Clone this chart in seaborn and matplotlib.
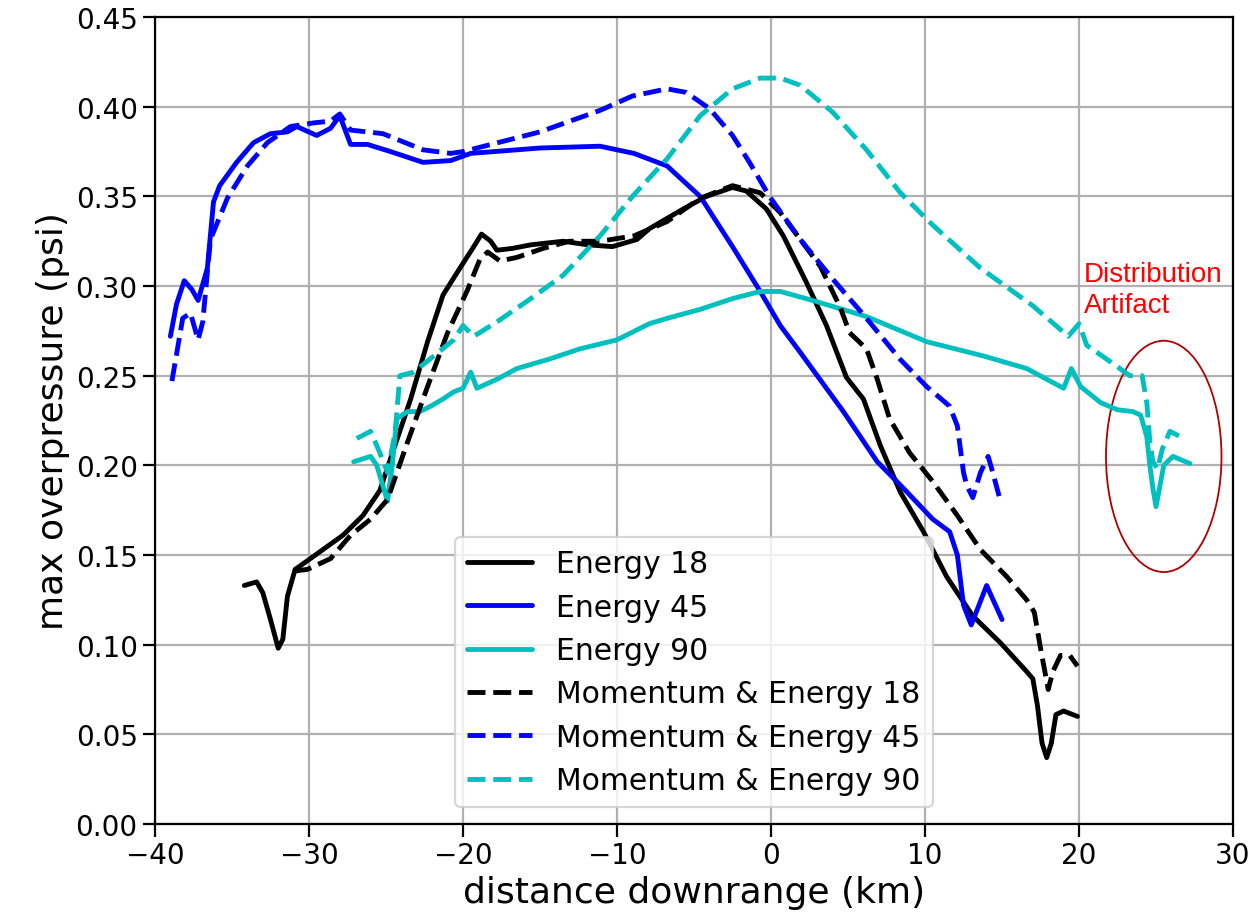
import numpy as np
import pandas as pd
import seaborn as sns
import matplotlib.pyplot as plt
from matplotlib.patches import Ellipse

# values
e18_x = [-34.2, -33.4, -33.0, -32.5, -32.0, -31.7, -31.4, -30.9, -30.4, -29.1, -27.8, -26.5, -25.4, -24.5,
         -23.4, -22.3, -21.3, -20.2, -19.3, -18.8, -18.2, -17.8, -16.8, -15.6, -13.5, -11.9, -10.3, -8.7,
         -7.9, -5.7, -4.2, -2.5, -1.6, -0.3, 0.8, 2.3, 3.6, 4.9, 6.0, 7.1, 8.4, 9.9, 11.4, 13.1, 14.9,
         16.6, 17.0, 17.3, 17.6, 17.9, 18.2, 18.5, 19.0, 19.9]
e18_y = [0.133, 0.135, 0.129, 0.114, 0.098, 0.103, 0.127, 0.142, 0.145, 0.153, 0.161, 0.172, 0.186, 0.209,
         0.237, 0.269, 0.295, 0.310, 0.322, 0.329, 0.325, 0.320, 0.321, 0.323, 0.325, 0.323, 0.322, 0.326,
         0.332, 0.343, 0.350, 0.355, 0.353, 0.343, 0.328, 0.302, 0.278, 0.249, 0.237, 0.211, 0.185, 0.163,
         0.138, 0.116, 0.101, 0.085, 0.081, 0.066, 0.045, 0.037, 0.045, 0.061, 0.063, 0.060]

e45_x = [-39.0, -38.6, -38.1, -37.6, -37.2, -36.6, -36.2, -35.8, -34.7, -33.6, -32.5, -31.4, -30.8, -29.5,
         -28.6, -28.0, -27.3, -26.2, -24.7, -22.6, -20.8, -19.5, -15.0, -11.1, -8.9, -6.75, -4.6, -2.5,
         -0.7, 0.6, 1.9, 4.7, 6.9, 8.4, 10.5, 11.6, 12.1, 12.5, 13.0, 14.0, 15.0]
e45_y = [0.272, 0.290, 0.303, 0.298, 0.292, 0.310, 0.347, 0.356, 0.369, 0.380, 0.385, 0.386, 0.389, 0.384,
         0.388, 0.395, 0.379, 0.379, 0.375, 0.369, 0.370, 0.374, 0.377, 0.378, 0.374, 0.367, 0.350, 0.322,
         0.297, 0.278, 0.263, 0.230, 0.202, 0.189, 0.170, 0.163, 0.150, 0.122, 0.111, 0.133, 0.114]

e90_x = [-27.1, -26.0, -25.6, -24.9, -24.6, -24.3, -23.6, -22.8, -22.1, -21.3, -20.6, -20.0, -19.5, -19.1,
         -17.8, -16.5, -14.5, -12.4, -10.0, -7.9, -6.75, -4.6, -2.5, -0.7, 0.6, 2.7, 6.2, 10.1, 13.8, 16.6,
         19.0, 19.5, 20.1, 21.4, 22.5, 23.5, 24.0, 24.4, 24.6, 24.8, 25.0, 25.5, 26.1, 27.2]
e90_y = [0.202, 0.205, 0.200, 0.180, 0.200, 0.226, 0.230, 0.230, 0.233, 0.237, 0.241, 0.243, 0.252, 0.243,
         0.248, 0.254, 0.259, 0.265, 0.270, 0.279, 0.282, 0.287, 0.293, 0.297, 0.297, 0.292, 0.283, 0.269,
         0.261, 0.254, 0.243, 0.254, 0.244, 0.235, 0.231, 0.230, 0.228, 0.216, 0.200, 0.187, 0.177, 0.200,
         0.205, 0.201]

me18_x = [-31.0, -30.1, -28.6, -27.3, -26.0, -24.9, -23.6, -22.3, -21.0, -19.7, -18.9, -18.4, -17.6, -16.5,
          -14.8, -13.1, -11.1, -8.9, -6.75, -4.6, -2.5, -0.7, 0.6, 1.9, 3.2, 4.5, 5.1, 6.2, 6.9, 7.7, 9.0,
          10.5, 12.1, 13.6, 15.3, 16.6, 17.1, 17.5, 18.0, 18.3, 18.8, 19.4, 19.9]
me18_y = [0.141, 0.142, 0.148, 0.161, 0.170, 0.181, 0.213, 0.244, 0.274, 0.298, 0.315, 0.319, 0.314, 0.316,
          0.321, 0.325, 0.325, 0.328, 0.336, 0.349, 0.356, 0.352, 0.341, 0.326, 0.311, 0.288, 0.274, 0.265,
          0.248, 0.226, 0.207, 0.191, 0.172, 0.153, 0.138, 0.125, 0.118, 0.098, 0.075, 0.085, 0.094, 0.094,
          0.088]

me45_x = [-38.9, -38.2, -37.7, -37.2, -36.9, -36.4, -35.3, -34.0, -32.7, -31.2, -29.7, -28.6, -28.0, -27.3,
          -25.2, -22.6, -20.8, -20.0, -15.0, -11.1, -9.0, -6.75, -5.5, -4.0, -2.5, -1.4, -0.1, 1.9, 4.0, 6.2,
          8.4, 10.1, 11.6, 12.1, 12.5, 12.7, 13.1, 13.6, 14.1, 14.4, 14.9]
me45_y = [0.247, 0.282, 0.285, 0.270, 0.280, 0.326, 0.349, 0.367, 0.380, 0.389, 0.391, 0.392, 0.396, 0.387,
          0.385, 0.376, 0.374, 0.375, 0.386, 0.398, 0.406, 0.410, 0.408, 0.399, 0.384, 0.369, 0.350, 0.326,
          0.304, 0.282, 0.259, 0.244, 0.233, 0.222, 0.196, 0.189, 0.182, 0.196, 0.205, 0.196, 0.180]

me90_x = [-26.9, -26.0, -25.4, -24.9, -24.4, -24.1, -23.2, -21.9, -20.6, -20.0, -19.3, -17.8, -15.6, -13.5,
          -11.1, -9.0, -6.75, -4.6, -2.5, -0.7, 0.6, 1.9, 4.0, 6.2, 8.4, 10.5, 13.6, 17.0, 19.3, 20.0, 20.5,
          22.0, 23.3, 24.1, 24.4, 24.6, 24.8, 25.1, 25.4, 25.9, 26.8]
me90_y = [0.215, 0.219, 0.207, 0.196, 0.219, 0.250, 0.252, 0.261, 0.270, 0.278, 0.272, 0.280, 0.293, 0.306,
          0.328, 0.350, 0.371, 0.395, 0.410, 0.416, 0.416, 0.412, 0.397, 0.376, 0.352, 0.334, 0.310, 0.289,
          0.272, 0.279, 0.267, 0.258, 0.250, 0.250, 0.235, 0.213, 0.202, 0.198, 0.209, 0.219, 0.215]

labels = ["Energy 18", "Energy 45", "Energy 90",
          "Momentum & Energy 18", "Momentum & Energy 45", "Momentum & Energy 90"]
colors = ["#000000", "#0000ff", "#00bfbf", "#000000", "#0000ff", "#00bfbf"]
styles = ["-", "-", "-", "--", "--", "--"]

sns.set_theme(style="ticks")
plt.rcParams['font.family'] = ['DejaVu Sans']
plt.rcParams['text.color'] = 'black'
plt.rcParams['axes.labelcolor'] = 'black'
plt.rcParams['xtick.color'] = 'black'
plt.rcParams['ytick.color'] = 'black'

fig = plt.figure(figsize=(12.55, 9.2), dpi=100)
ax = fig.add_axes([0.1235, 0.1033, 0.8590, 0.8770])

xs_all = [e18_x, e45_x, e90_x, me18_x, me45_x, me90_x]
ys_all = [e18_y, e45_y, e90_y, me18_y, me45_y, me90_y]

for xs, ys, col, ls, lab in zip(xs_all, ys_all, colors, styles, labels):
    sns.lineplot(x=xs, y=ys, ax=ax, color=col, linestyle=ls, linewidth=3.5,
                 label=lab, sort=False, estimator=None)

ax.set_xlim(-40, 30)
ax.set_ylim(0, 0.45)
ax.set_yticks(np.arange(0, 0.451, 0.05))
ax.set_yticklabels([f"{v:.2f}" for v in np.arange(0, 0.451, 0.05)])
ax.grid(True, color="#b0b0b0", linewidth=1.6)
ax.tick_params(labelsize=20, length=9, width=1.6, direction="out", color="black")
for sp in ax.spines.values():
    sp.set_color("black")
    sp.set_linewidth(1.6)

ax.set_xlabel("distance downrange (km)", fontsize=26)
ax.set_ylabel("max overpressure (psi)", fontsize=26)

# flagged region
ax.add_patch(Ellipse((25.5, 0.205), 7.5, 0.129, fill=False, edgecolor="#b00000", linewidth=1.3))
ax.text(20.3, 0.282, "Distribution\nArtifact", color="red", fontsize=20,
        family=["Liberation Sans", "DejaVu Sans"], ha="left", va="bottom", linespacing=1.25)

leg = ax.legend(loc="lower left", bbox_to_anchor=(0.278, 0.021), borderaxespad=0,
                fontsize=21.5, frameon=True, handlelength=2.2, labelspacing=0.48)
leg.get_frame().set_edgecolor("#cccccc")
leg.get_frame().set_linewidth(1.6)

fig.savefig("out.png", dpi=100)
